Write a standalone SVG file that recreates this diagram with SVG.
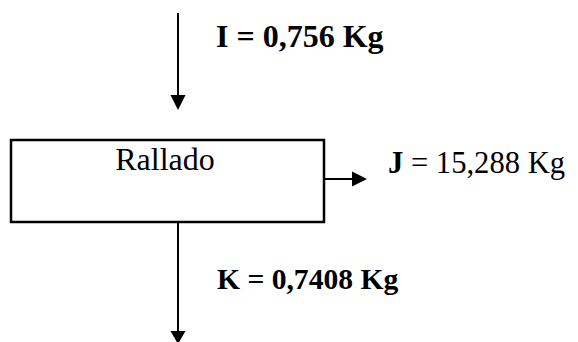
<svg xmlns="http://www.w3.org/2000/svg" width="578" height="342" viewBox="0 0 578 342">
<style>
.t{font-family:"Liberation Serif","Times New Roman",serif;font-size:30px;fill:#000}
.b{font-weight:bold}
.ln{stroke:#000;stroke-width:2;fill:none}
.hd{fill:#000}
</style>
<rect width="578" height="342" fill="#fff"/>
<g id="node-rallado">
<rect x="11" y="140" width="313" height="82" fill="#fff" stroke="#000" stroke-width="2.5"/>
<text class="t" x="165" y="170" text-anchor="middle" style="font-size:32px">Rallado</text>
</g>
<g id="label-I"><text class="t b" x="216" y="47" style="font-size:32px">I = 0,756 Kg</text></g>
<g id="label-J"><text class="t" x="388" y="173" style="font-size:30.6px"><tspan class="b">J</tspan> = 15,288 Kg</text></g>
<g id="label-K"><text class="t b" x="217" y="289" style="font-size:29.6px">K = 0,7408 Kg</text></g>
<g id="connectors">
<line class="ln" x1="178" y1="13" x2="178" y2="97"/>
<polygon class="hd" points="170.5,95 185.5,95 178,110"/>
<line class="ln" x1="324" y1="179" x2="354" y2="179"/>
<polygon class="hd" points="352,171.5 352,186.5 367,179"/>
<line class="ln" x1="178" y1="222" x2="178" y2="333"/>
<polygon class="hd" points="170.5,331 185.5,331 178,344"/>
</g>
</svg>
